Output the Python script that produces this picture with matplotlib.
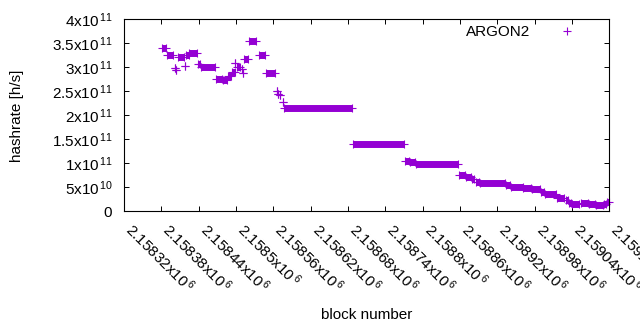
import matplotlib
matplotlib.use("Agg")
import matplotlib.pyplot as plt
from matplotlib.lines import Line2D
from matplotlib.transforms import ScaledTranslation

plt.rcParams["font.family"] = ["Liberation Sans", "DejaVu Sans"]
plt.rcParams["mathtext.fontset"] = "custom"
plt.rcParams["mathtext.rm"] = "Liberation Sans"

# runs of blocks with the same hashrate (first block, last block, value in h/s)
seg_start = [2158381, 2158389, 2158402, 2158404, 2158407, 2158418, 2158420, 2158425,
             2158438, 2158444, 2158468, 2158479, 2158487, 2158493, 2158499, 2158501,
             2158509, 2158511, 2158513, 2158521, 2158536, 2158548, 2158565, 2158568,
             2158571, 2158575, 2158577, 2158688, 2158771, 2158779, 2158789, 2158858,
             2158869, 2158879, 2158885, 2158892, 2158934, 2158942, 2158962, 2158975,
             2158990, 2158996, 2159016, 2159030, 2159035, 2159040, 2159054, 2159068,
             2159078, 2159091, 2159096]
seg_end = [2158388, 2158399, 2158402, 2158404, 2158416, 2158418, 2158424, 2158437,
           2158442, 2158466, 2158478, 2158486, 2158492, 2158498, 2158499, 2158507,
           2158509, 2158511, 2158519, 2158532, 2158547, 2158563, 2158565, 2158568,
           2158571, 2158575, 2158687, 2158770, 2158778, 2158787, 2158857, 2158868,
           2158877, 2158883, 2158890, 2158932, 2158940, 2158961, 2158974, 2158988,
           2158995, 2159015, 2159028, 2159033, 2159039, 2159052, 2159066, 2159077,
           2159090, 2159094, 2159100]
hashrate = [340.6e9, 324.0e9, 297.3e9, 293.7e9, 320.2e9, 302.7e9, 325.0e9, 328.5e9,
            305.6e9, 299.4e9, 274.6e9, 272.3e9, 280.6e9, 290.2e9, 309.0e9, 300.6e9,
            295.2e9, 286.9e9, 317.7e9, 355.2e9, 324.0e9, 286.5e9, 250.0e9, 244.8e9,
            241.7e9, 226.5e9, 215.6e9, 140.6e9, 105.2e9, 103.1e9, 96.9e9, 76.0e9,
            71.5e9, 66.0e9, 60.4e9, 57.7e9, 53.5e9, 51.0e9, 46.9e9, 45.0e9,
            40.2e9, 35.4e9, 28.1e9, 22.9e9, 17.3e9, 14.0e9, 16.0e9, 14.0e9,
            12.5e9, 14.6e9, 19.4e9]

xtick_values = [2158320, 2158380, 2158440, 2158500, 2158560, 2158620, 2158680,
                2158740, 2158800, 2158860, 2158920, 2158980, 2159040, 2159100]
xtick_mantissa = ["2.15832", "2.15838", "2.15844", "2.1585", "2.15856", "2.15862",
                  "2.15868", "2.15874", "2.1588", "2.15886", "2.15892", "2.15898",
                  "2.15904", "2.1591"]
ytick_values = [0, 0.5e11, 1e11, 1.5e11, 2e11, 2.5e11, 3e11, 3.5e11, 4e11]
ytick_labels = ["0", "5x10^{10}", "1x10^{11}", "1.5x10^{11}", "2x10^{11}",
                "2.5x10^{11}", "3x10^{11}", "3.5x10^{11}", "4x10^{11}"]

color = "#9400d3"
fs = 11

fig = plt.figure(figsize=(6.4, 3.3), dpi=100)
ax = fig.add_axes([0.194, 0.3606, 0.758, 0.5818])

# many overlapping "+" marks form solid bars; draw each run as a bar with end marks
ax.hlines(hashrate, seg_start, seg_end, color=color, linewidth=5.0, capstyle="butt")
ax.plot(seg_start, hashrate, "+", color=color, markersize=5.5, markeredgewidth=0.8,
        clip_on=False)
ax.plot(seg_end, hashrate, "+", color=color, markersize=5.5, markeredgewidth=0.8,
        clip_on=False)

ax.set_xlim(2158320, 2159100)
ax.set_ylim(0, 4e11)

ax.set_xticks(xtick_values)
ax.set_xticklabels([r"$\mathregular{%sx10^{\,6}}$" % m for m in xtick_mantissa],
                   rotation=-45, ha="left", va="baseline", rotation_mode="anchor")
shift = ScaledTranslation(-2 / 100, 0, fig.dpi_scale_trans)
for lab in ax.get_xticklabels():
    lab.set_transform(lab.get_transform() + shift)
ax.set_yticks(ytick_values)
ax.set_yticklabels([r"$\mathregular{%s}$" % t.replace("^{", "^{\\,") for t in ytick_labels])

ax.tick_params(direction="in", top=True, right=True, length=3.5, width=0.7,
               labelsize=fs, colors="black")
ax.tick_params(axis="x", pad=14.4)
ax.tick_params(axis="y", pad=8)
for s in ax.spines.values():
    s.set_linewidth(0.8)

ax.set_xlabel("block number", fontsize=fs)
ax.xaxis.set_label_coords(0.5, -0.542)
ax.xaxis.label.set_va("center")
ax.set_ylabel("hashrate [h/s]", fontsize=fs)
ax.yaxis.set_label_coords(-0.2206, 0.495)
ax.yaxis.label.set_va("center")

handle = Line2D([], [], color=color, marker="+", linestyle="none",
                markersize=5.5, markeredgewidth=0.8)
ax.legend([handle], ["ARGON2"], loc="center right", frameon=False, markerfirst=False,
          fontsize=fs, handlelength=2.0, handletextpad=1.42, borderpad=0,
          borderaxespad=0, bbox_to_anchor=(0.944, 0.932))

fig.savefig("out.png", dpi=100)
